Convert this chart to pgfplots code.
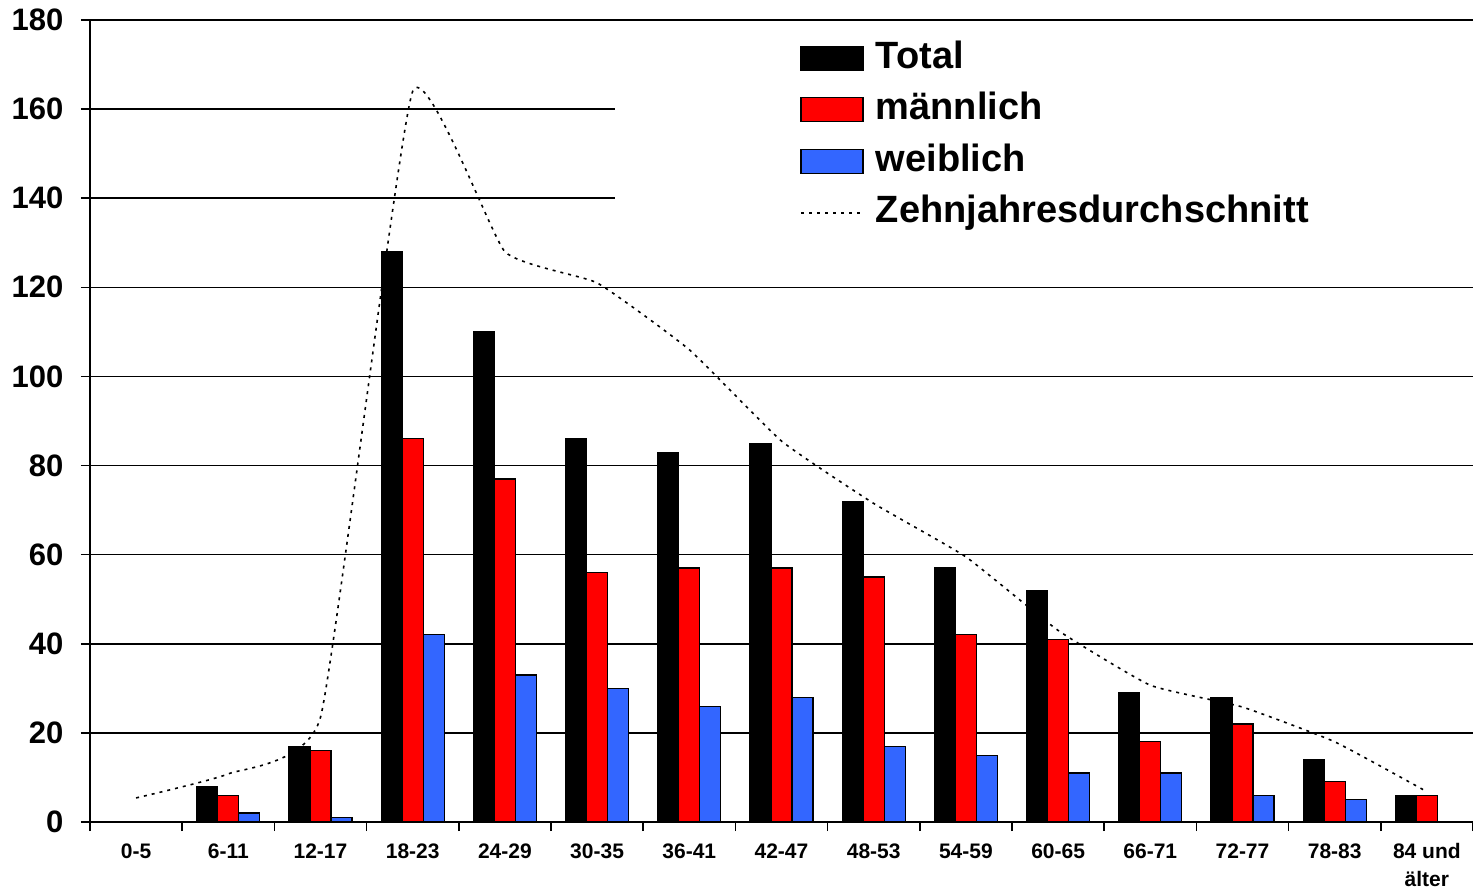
\documentclass[border=0pt]{standalone}
\usepackage{pgfplots}
\pgfplotsset{compat=1.18}
\usepackage{fontspec}
\setmainfont{Liberation Sans}
\definecolor{barred}{HTML}{FF0000}
\definecolor{barblue}{HTML}{3366FF}
\pgfplotsset{
  mybar legend/.style={legend image code/.code={\draw[##1] (0pt,-12pt) rectangle (62pt,12pt);}},
  myline legend/.style={legend image code/.code={\draw[##1] (0pt,0pt) -- (62pt,0pt);}},
}
\begin{document}
\begin{tikzpicture}
\useasboundingbox (-90pt,-67pt) rectangle (1383pt,822pt);
\begin{axis}[
  at={(0pt,0pt)}, anchor=south west,
  scale only axis, width=1383pt, height=802pt,
  xmin=-0.5, xmax=14.5, ymin=0, ymax=180,
  axis x line*=bottom, axis y line*=left,
  axis line style={line width=1.5pt, -},
  ytick={0,20,...,180},
  ymajorgrids, grid style={black, line width=1.5pt},
  tick align=outside, major tick length=9pt,
  tick style={black, line width=1.5pt},
  xtick={-0.5,0.5,...,14.5},
  x tick label as interval,
  xticklabels={0-5,6-11,12-17,18-23,24-29,30-35,36-41,42-47,48-53,54-59,60-65,66-71,72-77,78-83,{84 und\\älter}},
  xticklabel style={align=center, font=\fontsize{21}{28}\selectfont\bfseries, anchor=north, yshift=-9pt},
  /pgf/number format/assume math mode=true,
  yticklabel style={font=\fontsize{31}{36}\selectfont\bfseries, anchor=east, xshift=-14pt},
  legend cell align=left,
  legend style={at={(rel axis cs:0.5134,0.975)}, anchor=north west, draw=none, fill=none,
    inner sep=0pt, row sep=15.5pt,
    nodes={inner xsep=12pt, inner ysep=0pt, text height=28pt, text depth=8pt, anchor=west,
      font=\fontsize{38}{44}\selectfont\bfseries}},
]
% white legend background covering grid lines
\fill[white] (axis cs:5.194,179.6) rectangle (axis cs:14.6,128.5);
% ten-year average (behind bars)
\addplot[black, line width=1.6pt, dash pattern=on 3pt off 5pt, smooth, tension=0.25, forget plot]
  coordinates {(0,5.4) (1,10.8) (2,23.5) (3,164) (4,128) (5,121) (6,106) (7,85.5) (8,71.5) (9,59.5) (10,43) (11,30.7) (12,25.8) (13,18) (14,6.8)};
\addplot[ybar, bar width=21pt, bar shift=-21pt, fill=black, draw=black, line width=1.2pt, mybar legend]
  coordinates {(1,8) (2,17) (3,128) (4,110) (5,86) (6,83) (7,85) (8,72) (9,57) (10,52) (11,29) (12,28) (13,14) (14,6)};
\addlegendentry{Total}
\addplot[ybar, bar width=21pt, bar shift=0pt, fill=barred, draw=black, line width=1.2pt, mybar legend]
  coordinates {(1,6) (2,16) (3,86) (4,77) (5,56) (6,57) (7,57) (8,55) (9,42) (10,41) (11,18) (12,22) (13,9) (14,6)};
\addlegendentry{männlich}
\addplot[ybar, bar width=21pt, bar shift=21pt, fill=barblue, draw=black, line width=1.2pt, mybar legend]
  coordinates {(1,2) (2,1) (3,42) (4,33) (5,30) (6,26) (7,28) (8,17) (9,15) (10,11) (11,11) (12,6) (13,5)};
\addlegendentry{weiblich}
\addlegendimage{black, line width=1.6pt, dash pattern=on 3pt off 5pt, myline legend}
\addlegendentry{Zehnjahresdurchschnitt}
\end{axis}
\end{tikzpicture}
\end{document}
